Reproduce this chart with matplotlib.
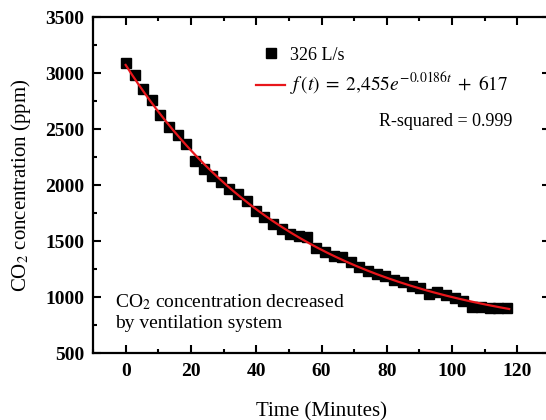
import numpy as np
import matplotlib
matplotlib.use("Agg")
import matplotlib.pyplot as plt
from matplotlib.lines import Line2D
from matplotlib.ticker import MultipleLocator

plt.rcParams["font.family"] = ["Liberation Serif", "DejaVu Serif"]
plt.rcParams["mathtext.fontset"] = "stix"

time_min = [0.0, 2.9, 5.3, 8.0, 10.6, 13.3, 15.9, 18.6, 21.2, 23.9,
            26.5, 29.2, 31.8, 34.5, 37.1, 39.8, 42.5, 45.1, 47.8, 50.4,
            53.1, 55.7, 58.4, 61.0, 63.7, 66.3, 69.0, 71.6, 74.3, 76.9,
            79.6, 82.3, 84.9, 87.6, 90.2, 92.9, 95.5, 98.2, 100.8, 103.5,
            106.1, 108.8, 111.5, 114.1, 116.8]
co2_ppm = [3090, 2985, 2855, 2760, 2628, 2520, 2444, 2366, 2217, 2140,
           2080, 2027, 1967, 1920, 1854, 1770, 1717, 1652, 1610, 1562,
           1545, 1533, 1436, 1398, 1370, 1357, 1312, 1270, 1230, 1203,
           1184, 1155, 1138, 1098, 1082, 1027, 1042, 1020, 994, 964,
           912, 908, 900, 900, 900]

# fitted model shown in the legend: f(t) = A * exp(k t) + C
FIT_A = 2455
FIT_K = -0.0186
FIT_C = 617
FIT_END = 117.5

series_label = "326 L/s"
fit_label = r"$f\,(t)\;=\;2{,}455e^{-0.0186t}\;+\;617$"
r2_text = "R-squared = 0.999"
note_text = "CO$_2$ concentration decreased\nby ventilation system"

fig = plt.figure(figsize=(5.46, 4.2), dpi=100)
ax = fig.add_axes([93 / 546, 67 / 420, 457 / 546, 336 / 420])

t_fit = np.linspace(0, FIT_END, 300)
y_fit = FIT_A * np.exp(FIT_K * t_fit) + FIT_C

ax.plot(time_min, co2_ppm, linestyle="none", marker="s", markersize=6.5,
        color="black", zorder=2)
ax.plot(t_fit, y_fit, color="#e8161b", linewidth=1.6, zorder=3)

ax.set_xlim(-10, 130)
ax.set_ylim(500, 3500)
ax.xaxis.set_major_locator(MultipleLocator(20))
ax.xaxis.set_minor_locator(MultipleLocator(10))
ax.yaxis.set_major_locator(MultipleLocator(500))
ax.yaxis.set_minor_locator(MultipleLocator(250))

ax.tick_params(which="both", direction="in", top=True, right=True, width=1.5)
ax.tick_params(which="major", length=6)
ax.tick_params(which="minor", length=3)
ax.tick_params(axis="x", which="major", pad=7)
ax.tick_params(axis="y", which="major", pad=6)
for lab in ax.get_xticklabels() + ax.get_yticklabels():
    lab.set_fontweight("bold")
    lab.set_fontsize(14)
for sp in ax.spines.values():
    sp.set_linewidth(1.6)

ax.set_xlabel("Time (Minutes)", fontsize=15, labelpad=16)
ax.set_ylabel("CO$_2$ concentration (ppm)", fontsize=15, labelpad=9)

handles = [
    Line2D([], [], linestyle="none", marker="s", markersize=6.5, color="black"),
    Line2D([], [], color="#e8161b", linewidth=1.6),
]
leg = ax.legend(handles, [series_label, fit_label], loc="upper left",
                bbox_to_anchor=(0.357, 0.912), borderaxespad=0, borderpad=0,
                frameon=False, fontsize=13, handlelength=1.6,
                handletextpad=0.3, labelspacing=0.4)
leg.get_texts()[1].set_fontsize(14)

ax.text(0.918, 0.69, r2_text, transform=ax.transAxes, fontsize=13,
        ha="right", va="center")
ax.text(0.048, 0.122, note_text, transform=ax.transAxes, fontsize=14,
        ha="left", va="center", linespacing=1.2)

fig.savefig("out.png", dpi=100)
